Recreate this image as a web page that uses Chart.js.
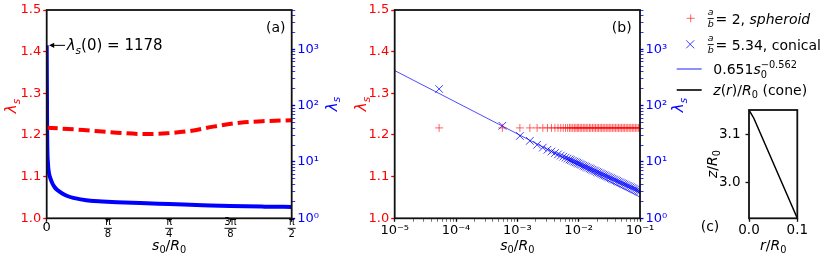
<!DOCTYPE html>
<html>
<head>
<meta charset="utf-8">
<script src="https://cdn.jsdelivr.net/npm/chart.js@4.4.1/dist/chart.umd.min.js"></script>
<style>
  html, body { margin: 0; padding: 0; background: #fff; }
  #wrap { position: relative; width: 831px; height: 264px; }
  #wrap canvas { position: absolute; left: 0; top: 0; }
</style>
</head>
<body>
<div id="wrap">
  <canvas id="chart-a" width="831" height="264"></canvas>
  <canvas id="chart-b" width="831" height="264"></canvas>
  <canvas id="chart-c" width="831" height="264"></canvas>
</div>
<script>
/* ---------- data ---------- */
// (a) stretch along the contour, spheroid (red, left axis) and cone (blue, right log axis)
const aRedS   = [0, 0.235, 0.449, 0.619, 0.769, 0.919, 1.069, 1.239, 1.41, 1.5708];
const aRedLam = [1.2175, 1.212, 1.2055, 1.2023, 1.204, 1.2096, 1.220, 1.2295, 1.2335, 1.2355];
const aBlueS   = [0, 0.003, 0.008, 0.0147, 0.025, 0.036, 0.05, 0.068, 0.1, 0.132, 0.17, 0.218, 0.28, 0.356, 0.45, 0.6, 0.785, 1.0, 1.178, 1.4, 1.5708];
const aBlueLam = [1178, 30, 9.5, 6.3, 5.0, 4.19, 3.6, 3.18, 2.75, 2.49, 2.3, 2.17, 2.05, 1.99, 1.93, 1.86, 1.79, 1.71, 1.65, 1.61, 1.59];

// (b) same data against log s0
const bS = [5.3e-5, 5.7e-4, 1.1e-3, 1.6e-3, 2.1e-3, 2.6e-3, 3.1e-3, 3.6e-3, 4.1e-3, 4.6e-3,
            5.1e-3, 5.6e-3, 6.1e-3, 6.6e-3, 7.1e-3, 7.5e-3, 8.0e-3, 8.5e-3, 9.0e-3, 9.5e-3,
            0.0100, 0.0106, 0.0112, 0.0119, 0.0126, 0.0133, 0.0141, 0.0150, 0.0158, 0.0168,
            0.0178, 0.0188, 0.0200, 0.0211, 0.0224, 0.0237, 0.0251, 0.0266, 0.0282, 0.0299,
            0.0316, 0.0335, 0.0355, 0.0376, 0.0398, 0.0422, 0.0447, 0.0473, 0.0501, 0.0531,
            0.0562, 0.0596, 0.0631, 0.0668, 0.0708, 0.0750, 0.0794, 0.0841, 0.0891, 0.0944, 0.1000];
const bRedLam = [1.217, 1.217, 1.217, 1.217, 1.217, 1.217, 1.217, 1.217, 1.217, 1.217,
                 1.217, 1.217, 1.217, 1.217, 1.217, 1.217, 1.217, 1.217, 1.217, 1.217,
                 1.217, 1.217, 1.217, 1.217, 1.217, 1.217, 1.217, 1.217, 1.217, 1.217,
                 1.217, 1.217, 1.217, 1.217, 1.217, 1.217, 1.217, 1.217, 1.217, 1.217,
                 1.217, 1.217, 1.217, 1.217, 1.217, 1.217, 1.217, 1.217, 1.217, 1.217,
                 1.217, 1.217, 1.217, 1.217, 1.217, 1.217, 1.217, 1.217, 1.217, 1.217, 1.217];
const bBlueLam = [198, 44, 29, 23.7, 20.2, 18.0, 16.5, 15.36, 14.43, 13.65,
                  12.99, 12.42, 11.92, 11.48, 11.09, 10.80, 10.47, 10.17, 9.89, 9.64,
                  9.40, 9.13, 8.89, 8.62, 8.38, 8.16, 7.93, 7.69, 7.49, 7.27,
                  7.06, 6.87, 6.66, 6.49, 6.30, 6.13, 5.95, 5.78, 5.62, 5.46,
                  5.31, 5.16, 5.01, 4.87, 4.74, 4.60, 4.47, 4.35, 4.23, 4.11,
                  3.99, 3.88, 3.77, 3.67, 3.56, 3.46, 3.36, 3.27, 3.18, 3.09, 3.0];
const fitS   = [1e-5, 0.1];
const fitLam = [420, 2.38];

// (c) cone profile
const cR = [0, 0.01, 0.1];
const cZ = [3.150, 3.133, 2.926];

// ticks
const aXTicks = [0, Math.PI / 8, Math.PI / 4, 3 * Math.PI / 8, Math.PI / 2];
const aXLabels = [['0'], ['π', '8'], ['π', '4'], ['3π', '8'], ['π', '2']];
const lamTicks = [1.0, 1.1, 1.2, 1.3, 1.4, 1.5];
const logMajors = [1, 10, 100, 1000];
const logLabels = ['10⁰', '10¹', '10²', '10³'];
const bXMajors = [1e-5, 1e-4, 1e-3, 1e-2, 1e-1];
const bXLabels = ['10⁻⁵', '10⁻⁴', '10⁻³', '10⁻²', '10⁻¹'];
const cXTicks = [0, 0.1];
const cYTicks = [3.0, 3.1];

/* ---------- helpers ---------- */
const FONT = '"DejaVu Sans", sans-serif';
const RED = '#ff0000', BLUE = '#0000ff';
Chart.defaults.font.family = FONT;
Chart.defaults.font.size = 13;
Chart.defaults.color = '#000';

function withMinors(majors, top) {
  const out = [];
  majors.forEach(d => { out.push(d); for (let k = 2; k <= 9; k++) if (k * d <= top * 1.0001) out.push(k * d); });
  return out.filter(v => v <= top * 1.0001);
}
const yLogTicks = withMinors(logMajors, 5000);
const bXTicks = withMinors(bXMajors, 0.1);

const pts = (xs, ys) => xs.map((x, i) => ({ x, y: ys[i] }));
const fixW = w => s => { s.width = w; };
const fixH = h => s => { s.height = h; };
const setTicks = (vals, majors) => s => { s.ticks = vals.map(v => ({ value: v, major: majors ? majors.includes(v) : true })); };
const labelOf = (majors, labels) => v => { const k = majors.indexOf(v); return k >= 0 ? labels[k] : ''; };
const grid = (color, minor) => ({
  drawOnChartArea: false, drawTicks: true, tickLength: 3.5,
  tickWidth: c => (c.tick && c.tick.major === false) ? 0.8 : 1.3,
  tickColor: c => (c.tick && c.tick.major === false) ? (minor || color) : color
});

function drawRich(ctx, parts, x, y, size, color, align) {
  ctx.save();
  ctx.fillStyle = color;
  ctx.textAlign = 'left';
  ctx.textBaseline = 'alphabetic';
  const fontOf = p => (p.i ? 'italic ' : '') + (size * (p.r || 1)) + 'px ' + FONT;
  let total = 0;
  const ws = parts.map(p => { ctx.font = fontOf(p); const w = ctx.measureText(p.t).width; if (!p.stay) total += w; return w; });
  let cx = align === 'center' ? x - total / 2 : x;
  parts.forEach((p, k) => {
    ctx.font = fontOf(p);
    ctx.fillText(p.t, cx + (p.dx || 0) * size, y + (p.dy || 0) * size);
    if (!p.stay) cx += ws[k];
  });
  ctx.restore();
}
const rm = t => ({ t });
const it = t => ({ t, i: true });
const sub = (t, o) => ({ t, r: 0.7, dy: 0.22, ...o });
const sup = (t, o) => ({ t, r: 0.7, dy: -0.42, ...o });

function rotated(ctx, parts, x, y, size, color) {
  ctx.save();
  ctx.translate(x, y);
  ctx.rotate(-Math.PI / 2);
  drawRich(ctx, parts, 0, size * 0.35, size, color, 'center');
  ctx.restore();
}
function frac(ctx, num, den, x, yBar, size, italic, w) {
  ctx.save();
  ctx.fillStyle = '#000';
  ctx.font = (italic ? 'italic ' : '') + size + 'px ' + FONT;
  ctx.textAlign = 'center';
  ctx.textBaseline = 'middle';
  ctx.fillText(num, x, yBar - size * 0.6);
  ctx.fillText(den, x, yBar + size * 0.62);
  ctx.fillRect(x - w / 2, yBar - 0.45, w, 0.9);
  ctx.restore();
}

const LAM = [it('λ'), sub('s', { i: true })];
const S0R0 = [it('s'), sub('0'), rm('/'), it('R'), sub('0')];

const frame = {
  id: 'frame',
  afterDatasetsDraw(chart) {
    const { ctx, chartArea: a } = chart;
    ctx.save();
    ctx.strokeStyle = '#111';
    ctx.lineWidth = 1.8;
    ctx.strokeRect(a.left, a.top, a.right - a.left, a.bottom - a.top);
    ctx.restore();
  }
};
const base = {
  responsive: false, animation: false, devicePixelRatio: 1, events: [],
  plugins: { legend: { display: false }, tooltip: { enabled: false } }
};

/* ---------- (a) ---------- */
new Chart(document.getElementById('chart-a'), {
  type: 'scatter',
  data: {
    datasets: [
      { data: pts(aRedS, aRedLam), yAxisID: 'y', showLine: true, borderColor: RED, borderWidth: 4,
        borderDash: [11, 5], pointRadius: 0, cubicInterpolationMode: 'monotone' },
      { data: pts(aBlueS, aBlueLam), yAxisID: 'y2', showLine: true, borderColor: BLUE, borderWidth: 4,
        pointRadius: 0, cubicInterpolationMode: 'monotone' }
    ]
  },
  options: {
    ...base,
    layout: { padding: { left: 0, right: 486, top: 10, bottom: 0 } },
    scales: {
      x: { type: 'linear', min: 0, max: Math.PI / 2, afterBuildTicks: setTicks(aXTicks), afterFit: fixH(45.7),
           ticks: { display: false }, grid: grid('#111'), border: { display: false } },
      y: { type: 'linear', position: 'left', min: 1, max: 1.5, afterBuildTicks: setTicks(lamTicks), afterFit: fixW(46.7),
           ticks: { color: RED, padding: 2, autoSkip: false, callback: v => v.toFixed(1) }, grid: grid(RED), border: { display: false } },
      y2: { type: 'logarithmic', position: 'right', min: 1, max: 5000, afterBuildTicks: setTicks(yLogTicks, logMajors), afterFit: fixW(53.3),
            ticks: { color: BLUE, padding: 2, autoSkip: false, callback: labelOf(logMajors, logLabels) }, grid: grid(BLUE), border: { display: false } }
    }
  },
  plugins: [frame, {
    id: 'aDeco',
    afterDraw(chart) {
      const { ctx, chartArea: a, scales } = chart;
      // fraction tick labels
      aXTicks.forEach((v, i) => {
        const x = scales.x.getPixelForValue(v);
        const lab = aXLabels[i];
        if (lab.length === 1) {
          ctx.save();
          ctx.fillStyle = '#000';
          ctx.textAlign = 'center';
          ctx.textBaseline = 'middle';
          ctx.font = '13px ' + FONT;
          ctx.fillText(lab[0], x, a.bottom + 9);
          ctx.restore();
        } else {
          frac(ctx, lab[0], lab[1], x, a.bottom + 10, 10, false, lab[0].length > 1 ? 12 : 8);
        }
      });
      drawRich(ctx, S0R0, (a.left + a.right) / 2, 250, 14, '#000', 'center');
      rotated(ctx, LAM, 11, 106, 15, RED);
      rotated(ctx, LAM, 331.7, 104, 15, BLUE);
      drawRich(ctx, [rm('(a)')], 275.7, 31.5, 14, '#000', 'center');
      // annotation: arrow to the peak value
      const px = scales.x.getPixelForValue(aBlueS[0]);
      const py = scales.y2.getPixelForValue(aBlueLam[0]);
      ctx.save();
      ctx.strokeStyle = '#000';
      ctx.fillStyle = '#000';
      ctx.lineWidth = 1;
      ctx.beginPath(); ctx.moveTo(px + 18.3, py); ctx.lineTo(px + 6, py); ctx.stroke();
      ctx.beginPath(); ctx.moveTo(px + 2.3, py); ctx.lineTo(px + 7.5, py - 2.6); ctx.lineTo(px + 7.5, py + 2.6); ctx.closePath(); ctx.fill();
      ctx.restore();
      drawRich(ctx, [it('λ'), sub('s', { i: true }), rm('(0) = 1178')], px + 20, py + 5, 15, '#000');
    }
  }]
});

/* ---------- (b) ---------- */
new Chart(document.getElementById('chart-b'), {
  type: 'scatter',
  data: {
    datasets: [
      { data: pts(bS, bRedLam), yAxisID: 'y', pointStyle: 'cross', pointRadius: 4, borderWidth: 1,
        borderColor: 'rgba(255,0,0,0.6)', backgroundColor: 'rgba(255,0,0,0.6)' },
      { data: pts(bS, bBlueLam), yAxisID: 'y2', pointStyle: 'crossRot', pointRadius: 5.4, borderWidth: 1,
        borderColor: 'rgba(0,0,255,0.75)', backgroundColor: 'rgba(0,0,255,0.75)' },
      { data: pts(fitS, fitLam), yAxisID: 'y2', showLine: true, pointRadius: 0, borderWidth: 1,
        borderColor: 'rgba(0,0,255,0.7)' }
    ]
  },
  options: {
    ...base,
    layout: { padding: { left: 345, right: 141, top: 10, bottom: 0 } },
    scales: {
      x: { type: 'logarithmic', min: 1e-5, max: 0.1, afterBuildTicks: setTicks(bXTicks, bXMajors), afterFit: fixH(45.7),
           ticks: { padding: 1, autoSkip: false, maxRotation: 0, callback: labelOf(bXMajors, bXLabels) },
           grid: grid('#111', '#555'), border: { display: false } },
      y: { type: 'linear', position: 'left', min: 1, max: 1.5, afterBuildTicks: setTicks(lamTicks), afterFit: fixW(49.7),
           ticks: { color: RED, padding: 2, autoSkip: false, callback: v => v.toFixed(1) }, grid: grid(RED), border: { display: false } },
      y2: { type: 'logarithmic', position: 'right', min: 1, max: 5000, afterBuildTicks: setTicks(yLogTicks, logMajors), afterFit: fixW(50),
            ticks: { color: BLUE, padding: 2, autoSkip: false, callback: labelOf(logMajors, logLabels) }, grid: grid(BLUE), border: { display: false } }
    }
  },
  plugins: [frame, {
    id: 'bDeco',
    afterDraw(chart) {
      const { ctx, chartArea: a } = chart;
      drawRich(ctx, S0R0, (a.left + a.right) / 2, 250, 14, '#000', 'center');
      rotated(ctx, LAM, 361, 104, 15, RED);
      rotated(ctx, LAM, 678, 105, 15, BLUE);
      drawRich(ctx, [rm('(b)')], 621.7, 31.5, 14, '#000', 'center');
    }
  }]
});

/* ---------- (c) + legend ---------- */
new Chart(document.getElementById('chart-c'), {
  type: 'scatter',
  data: {
    datasets: [
      { data: pts(cR, cZ), showLine: true, pointRadius: 0, borderWidth: 1.5, borderColor: '#000' }
    ]
  },
  options: {
    ...base,
    layout: { padding: { left: 660, right: 33.7, top: 110, bottom: 0 } },
    scales: {
      x: { type: 'linear', min: 0, max: 0.1, afterBuildTicks: setTicks(cXTicks), afterFit: fixH(45.7),
           ticks: { font: { size: 13.5 }, padding: 1, autoSkip: false, maxRotation: 0, callback: v => v.toFixed(1) },
           grid: grid('#111'), border: { display: false } },
      y: { type: 'linear', min: 2.926, max: 3.150, afterBuildTicks: setTicks(cYTicks), afterFit: fixW(89),
           ticks: { font: { size: 13.5 }, padding: 5, autoSkip: false, callback: v => v.toFixed(1) },
           grid: grid('#111'), border: { display: false } }
    }
  },
  plugins: [frame, {
    id: 'cDeco',
    afterDraw(chart) {
      const { ctx, chartArea: a } = chart;
      drawRich(ctx, [it('r'), rm('/'), it('R'), sub('0')], (a.left + a.right) / 2, 249.5, 14, '#000', 'center');
      rotated(ctx, [it('z'), rm('/'), it('R'), sub('0')], 711.7, 164, 14, '#000');
      drawRich(ctx, [rm('(c)')], 710, 231, 14, '#000', 'center');

      // legend
      ctx.save();
      ctx.lineWidth = 1;
      ctx.strokeStyle = 'rgba(255,0,0,0.6)';
      ctx.beginPath();
      ctx.moveTo(686.7, 18.3); ctx.lineTo(694.7, 18.3);
      ctx.moveTo(690.7, 14.3); ctx.lineTo(690.7, 22.3);
      ctx.stroke();
      ctx.strokeStyle = 'rgba(0,0,255,0.75)';
      ctx.beginPath();
      ctx.moveTo(686.2, 40.3); ctx.lineTo(694.2, 48.3);
      ctx.moveTo(694.2, 40.3); ctx.lineTo(686.2, 48.3);
      ctx.stroke();
      ctx.lineWidth = 1.6;
      ctx.strokeStyle = 'rgba(0,0,255,0.55)';
      ctx.beginPath(); ctx.moveTo(676.7, 69); ctx.lineTo(701.7, 69); ctx.stroke();
      ctx.strokeStyle = '#000';
      ctx.beginPath(); ctx.moveTo(676.7, 90); ctx.lineTo(701.7, 90); ctx.stroke();
      ctx.restore();

      frac(ctx, 'a', 'b', 710.7, 18.6, 9.5, true, 6);
      drawRich(ctx, [rm('= 2, '), it('spheroid')], 715.5, 23.5, 14, '#000');
      frac(ctx, 'a', 'b', 710.7, 44.6, 9.5, true, 6);
      drawRich(ctx, [rm('= 5.34, conical')], 715.5, 49.5, 14, '#000');
      drawRich(ctx, [rm('0.651'), it('s'), sub('0', { stay: true, dy: 0.3 }), sup('−0.562', { dy: -0.45 })], 713.3, 74, 14, '#000');
      drawRich(ctx, [it('z'), rm('('), it('r'), rm(')/'), it('R'), sub('0'), rm(' (cone)')], 713.3, 95, 14, '#000');
    }
  }]
});
</script>
</body>
</html>
